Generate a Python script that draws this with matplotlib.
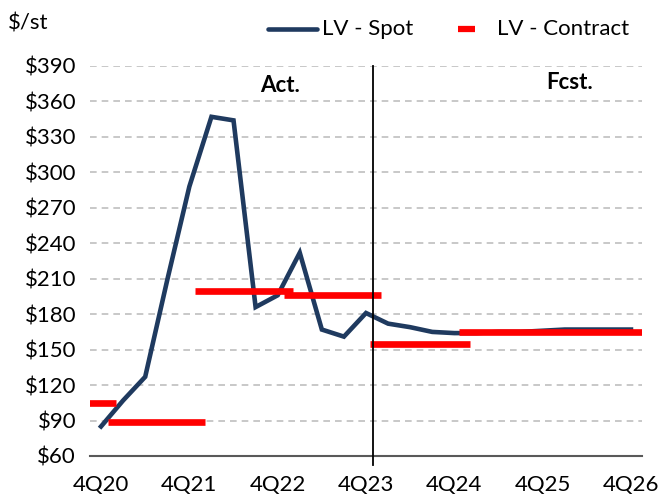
import matplotlib
matplotlib.use("Agg")
import matplotlib.pyplot as plt
from matplotlib.lines import Line2D

plt.rcParams['font.family'] = ['Lato', 'DejaVu Sans']

# ---- data ----
quarters = ["4Q20", "1Q21", "2Q21", "3Q21", "4Q21", "1Q22", "2Q22", "3Q22", "4Q22",
            "1Q23", "2Q23", "3Q23", "4Q23", "1Q24", "2Q24", "3Q24", "4Q24",
            "1Q25", "2Q25", "3Q25", "4Q25", "1Q26", "2Q26", "3Q26", "4Q26"]
spot = [85, 107, 127, 209, 288, 347, 344, 186, 196, 232, 167, 161, 181,
        172, 169, 165, 164, 164, 165, 165, 166, 167, 167, 167, 167]
# contract price periods (start / end on the quarter axis) and levels
contract_start = [-0.7, 0.3, 4.25, 8.3, 12.2, 16.2]
contract_end = [0.7, 4.7, 8.7, 12.7, 16.7, 24.7]
contract_value = [105, 88.5, 200, 196, 155, 165]
tick_labels = ["4Q20", "4Q21", "4Q22", "4Q23", "4Q24", "4Q25", "4Q26"]
y_ticks = [60, 90, 120, 150, 180, 210, 240, 270, 300, 330, 360, 390]
split_at = 12.3  # actual / forecast divider

SPOT_C = "#1F3A5F"
RED = "#FF0000"
FS = 16

fig = plt.figure(figsize=(6.64, 5.0), dpi=100)
ax = fig.add_axes([90/664, 1-456/500, (642-90)/664, (456-66)/500])

x = list(range(len(quarters)))
ax.plot(x, spot, color=SPOT_C, lw=3.3, solid_joinstyle="miter", zorder=3)
ax.hlines(contract_value, contract_start, contract_end, colors=RED,
          lw=4.8, zorder=4)

ax.set_xlim(-0.5, 24.5)
ax.set_ylim(60, 390)
ax.set_yticks(y_ticks)
ax.set_yticklabels([f"${v}" for v in y_ticks], fontsize=FS)
ax.set_xticks([quarters.index(t) for t in tick_labels])
ax.set_xticklabels(tick_labels, fontsize=FS)
ax.tick_params(axis="both", length=0)
ax.tick_params(axis="x", pad=14)
ax.tick_params(axis="y", pad=10)

for v in y_ticks[1:]:
    ax.axhline(v, color="#BFBFBF", lw=1.2, ls=(0, (4, 3)), zorder=1)
for s in ["left", "right", "top"]:
    ax.spines[s].set_visible(False)
ax.spines["bottom"].set_color("#595959")
ax.spines["bottom"].set_linewidth(1.5)

ax.plot([split_at, split_at], [390, 52.5], color="black", lw=1.3,
        clip_on=False, zorder=5)

ax.text(8.1, 382, "Act.", fontsize=FS, fontweight="bold", ha="center", va="top")
ax.text(21.2, 385, "Fcst.", fontsize=FS, fontweight="bold", ha="center", va="top")

fig.text(8/664, 1-24/500, "$/st", fontsize=FS, ha="left", va="center")

# legend (drawn manually in figure pixels)
ly = 1 - 29/500
fig.add_artist(Line2D([268/664, 317/664], [ly, ly], color=SPOT_C, lw=3.3,
                      solid_capstyle="round"))
fig.text(322/664, ly, "LV - Spot", fontsize=FS, ha="left", va="center")
fig.add_artist(Line2D([458/664, 475/664], [ly, ly], color=RED, lw=4.5,
                      solid_capstyle="butt"))
fig.text(497/664, ly, "LV - Contract", fontsize=FS, ha="left", va="center")

fig.savefig("out.png", dpi=100)
